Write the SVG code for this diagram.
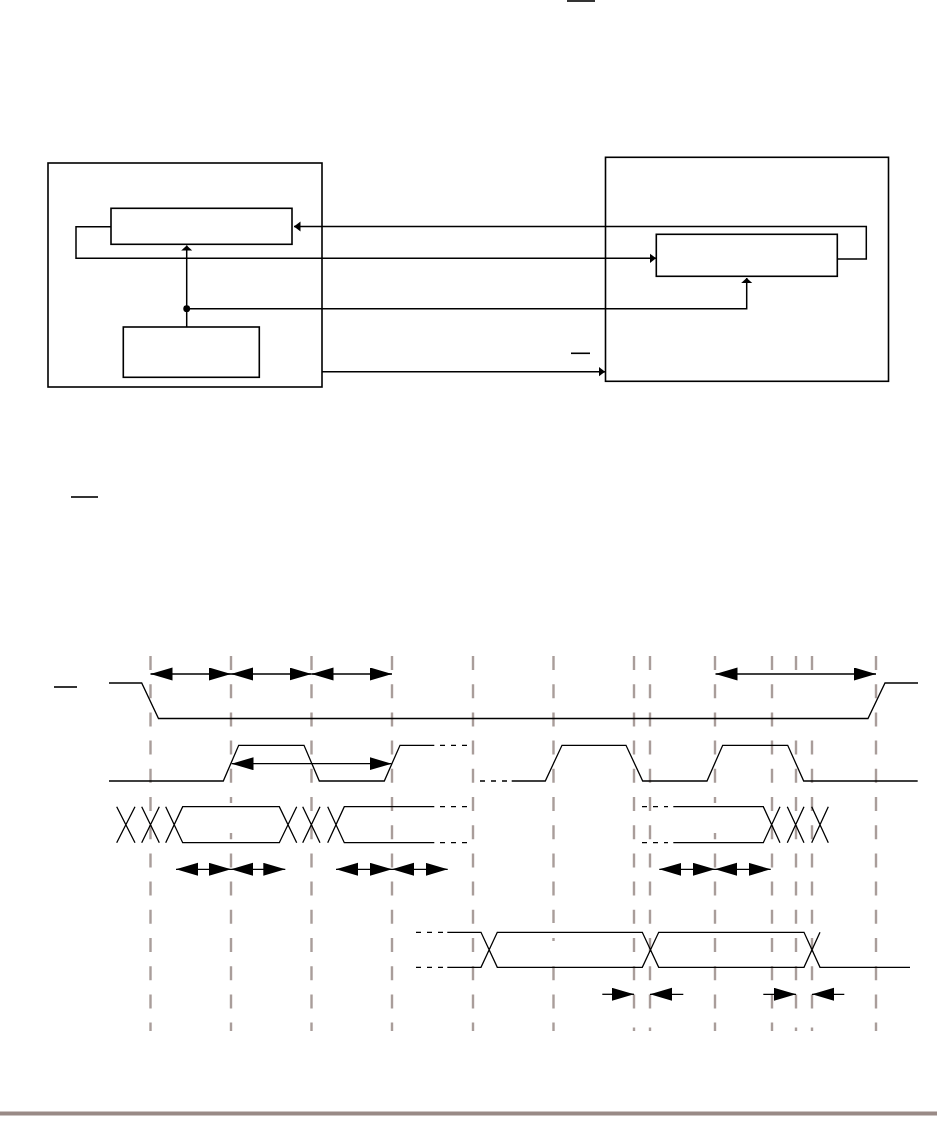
<svg xmlns="http://www.w3.org/2000/svg" width="937" height="1143" viewBox="0 0 937 1143">
<defs>
<style>
.box{fill:#fff;stroke:#000;stroke-width:1.6}
.wire{fill:none;stroke:#000;stroke-width:1.5}
.sig{fill:none;stroke:#000;stroke-width:1.3}
.dsig{fill:none;stroke:#000;stroke-width:1.3;stroke-dasharray:5 6}
.grid{fill:none;stroke:#a99d9a;stroke-width:2.4;stroke-dasharray:14 14.2}
.ol{stroke:#000;stroke-width:1.6}
.dim{fill:none;stroke:#000;stroke-width:1.3}
</style>
<marker id="ah" markerUnits="userSpaceOnUse" markerWidth="8" markerHeight="11" refX="6.5" refY="5" orient="auto"><path d="M0,0 L6.5,5 L0,10 z" fill="#000"/></marker>
<marker id="au" markerUnits="userSpaceOnUse" markerWidth="6" markerHeight="12" refX="5" refY="5.5" orient="auto"><path d="M0,0 L5,5.5 L0,11 z" fill="#000"/></marker>
<marker id="th" markerUnits="userSpaceOnUse" markerWidth="23" markerHeight="14" refX="22" refY="6.5" orient="auto-start-reverse"><path d="M0,0 L22,6.5 L0,13 z" fill="#000"/></marker>
<mask id="gm" maskUnits="userSpaceOnUse" x="0" y="0" width="937" height="1143">
<rect x="0" y="0" width="937" height="1143" fill="#fff"/>
<rect x="225" y="803" width="12" height="30" fill="#000"/>
<rect x="709" y="803" width="12" height="30" fill="#000"/>
<rect x="547" y="923" width="13" height="12" fill="#000"/>
<rect x="547" y="941" width="13" height="24" fill="#000"/>
<rect x="790" y="683" width="28" height="54" fill="#000"/>
<rect x="628" y="1019" width="28" height="8.5" fill="#000"/>
<rect x="790" y="1019" width="28" height="8.5" fill="#000"/>
</mask>
</defs>
<rect width="937" height="1143" fill="#fff"/>

<line class="ol" x1="567" y1="1" x2="595" y2="1" stroke-width="2.4"/>

<g id="host"><rect class="box" x="48" y="163" width="274" height="224"/></g>
<g id="device"><rect class="box" x="605.5" y="157.3" width="283" height="224"/></g>
<g id="host-register"><rect class="box" x="111" y="208.3" width="181" height="36"/></g>
<g id="host-clock"><rect class="box" x="123.3" y="327" width="136" height="50.3"/></g>
<g id="device-register"><rect class="box" x="656.3" y="234.3" width="181" height="42"/></g>

<g id="connectors">
<path class="wire" d="M837.3,259 H866.3 V226.6 H294" marker-end="url(#ah)"/>
<path class="wire" d="M111,226.7 H76 V258.3 H656" marker-end="url(#ah)"/>
<path class="wire" d="M186.7,327 V245.5" marker-end="url(#au)"/>
<path class="wire" d="M186.7,308.7 H746.7 V278" marker-end="url(#au)"/>
<circle cx="186.7" cy="308.7" r="3.4" fill="#000"/>
<path class="wire" d="M322,371.7 H605" marker-end="url(#ah)"/>
</g>
<line class="ol" x1="571" y1="353.3" x2="590" y2="353.3"/>

<line class="ol" x1="71" y1="497" x2="98" y2="497"/>

<g id="timing">
<g mask="url(#gm)">
<path class="grid" d="M150.5,656 V1031 M231,656 V1031 M311.5,656 V1031 M392,656 V1031 M473,656 V1031 M553.5,656 V1031 M634,656 V1031 M650,656 V1031 M715,656 V1031 M772,656 V1031 M796,656 V1031 M812,656 V1031 M876,656 V1031"/>
</g>
<line class="ol" x1="54" y1="687" x2="77" y2="687" stroke-width="1.4"/>
<path class="sig" d="M109,683 H141.7 L158.5,718.5 H868 L885,683 H918"/>
<g class="dim">
<line x1="150.5" y1="674" x2="231" y2="674" marker-start="url(#th)" marker-end="url(#th)"/>
<line x1="231" y1="674" x2="311.5" y2="674" marker-start="url(#th)" marker-end="url(#th)"/>
<line x1="311.5" y1="674" x2="392" y2="674" marker-start="url(#th)" marker-end="url(#th)"/>
<line x1="715.5" y1="674" x2="876" y2="674" marker-start="url(#th)" marker-end="url(#th)"/>
</g>

<path class="sig" d="M109,781 H223.3 L238.7,745.3 H304 L319.3,781 H384.3 L400,745.3 H434.3"/>
<path class="dsig" d="M440,745.3 H467 M480,781 H507"/>
<path class="sig" d="M511.7,781 H545.3 L562,745.3 H626 L642.7,781 H707 L722.7,745.3 H787.7 L803.7,781 H917.7"/>
<line class="dim" x1="231.5" y1="763.7" x2="391.7" y2="763.7" marker-start="url(#th)" marker-end="url(#th)"/>

<path class="sig" d="M116.7,806.7 L135,842.7 M135,806.7 L116.7,842.7 M141.7,806.7 L159.3,842.7 M159.3,806.7 L141.7,842.7 M165.7,806.7 L182.7,842.7 H279.3 L296.7,806.7 M165.7,842.7 L182.7,806.7 H279.3 L296.7,842.7 M302.7,806.7 L320,842.7 M320,806.7 L302.7,842.7 M327.7,806.7 L344.3,842.7 H434.3 M327.7,842.7 L344.3,806.7 H434.3"/>
<path class="dsig" d="M440,806.7 H467 M440,842.7 H467 M642,806.7 H668 M642,842.7 H668"/>
<path class="sig" d="M673.3,806.7 H763.3 L780,842.7 M673.3,842.7 H763.3 L780,806.7 M787.3,806.7 L804,842.7 M804,806.7 L787.3,842.7 M811.7,806.7 L828.3,842.7 M828.3,806.7 L811.7,842.7"/>
<g class="dim">
<line x1="176" y1="869.3" x2="231" y2="869.3" marker-start="url(#th)" marker-end="url(#th)"/>
<line x1="231" y1="869.3" x2="285.3" y2="869.3" marker-start="url(#th)" marker-end="url(#th)"/>
<line x1="336" y1="869.3" x2="392" y2="869.3" marker-start="url(#th)" marker-end="url(#th)"/>
<line x1="392" y1="869.3" x2="447.7" y2="869.3" marker-start="url(#th)" marker-end="url(#th)"/>
<line x1="659.3" y1="869.3" x2="715" y2="869.3" marker-start="url(#th)" marker-end="url(#th)"/>
<line x1="715" y1="869.3" x2="770.7" y2="869.3" marker-start="url(#th)" marker-end="url(#th)"/>
</g>

<path class="dsig" d="M416,932.3 H443 M416,967.3 H443"/>
<path class="sig" d="M447.3,932.3 H481 L497.3,967.3 H642.3 L658.7,932.3 H804 L820,967.3 H910 M447.3,967.3 H481 L497.3,932.3 H642.3 L658.7,967.3 H804 L820,932.3"/>
<g class="dim">
<line x1="602.3" y1="994.3" x2="634" y2="994.3" marker-end="url(#th)"/>
<line x1="683.3" y1="994.3" x2="650" y2="994.3" marker-end="url(#th)"/>
<line x1="763.3" y1="994.3" x2="796" y2="994.3" marker-end="url(#th)"/>
<line x1="844.3" y1="994.3" x2="812" y2="994.3" marker-end="url(#th)"/>
</g>
</g>

<rect x="0" y="1111.5" width="937" height="4" fill="#998a86"/>
</svg>
